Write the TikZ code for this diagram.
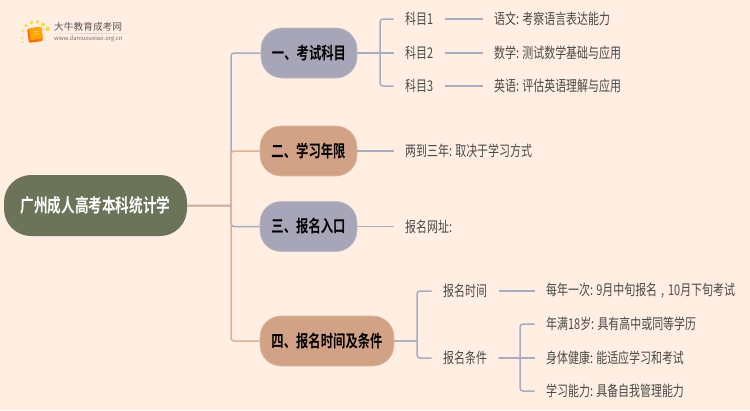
\documentclass[tikz,border=0pt]{standalone}
\usepackage{fontspec}
\setmainfont{Noto Sans CJK SC}
\newfontfamily\leaffont[FakeStretch=0.74]{Noto Sans CJK SC}
\newfontfamily\boldfont[FakeStretch=0.73]{Noto Sans CJK SC Bold}
\definecolor{bg}{HTML}{FFEEE1}
\definecolor{rootc}{HTML}{6B7358}
\definecolor{grayc}{HTML}{A6A6B8}
\definecolor{salc}{HTML}{D2A286}
\definecolor{lineg}{HTML}{A9ABC0}
\definecolor{lines}{HTML}{DFB095}
\definecolor{txt}{HTML}{4A4A4A}
\tikzset{
 rootnode/.style={fill=rootc,text=white,rounded corners=27pt,minimum width=183pt,minimum height=61pt,inner sep=0pt,font=\boldfont\fontsize{18.7}{20}\selectfont},
 branchg/.style={fill=grayc,draw=grayc!70!bg,line width=.6pt,text=black,rounded corners=21pt,minimum height=50pt,inner sep=0pt,font=\boldfont\fontsize{16.9}{18}\selectfont},
 branchs/.style={branchg,fill=salc,draw=salc!70!bg},
 leaf/.style={anchor=west,text=txt,inner xsep=11.5pt,inner ysep=2pt,font=\leaffont\fontsize{14.8}{16}\selectfont},
 cg/.style={draw=lineg,line width=1.5pt},
 cs/.style={draw=lines,line width=1.5pt},
}
\begin{document}
\begin{tikzpicture}[x=1pt,y=-1pt]
\fill[bg] (0,0) rectangle (750,410);
\useasboundingbox (0,0) rectangle (750,410);
% logo
\foreach \x/\y/\r in {21.5/38/1,22.5/31/1.3,26/25.5/1.6,31.5/22.5/1.8,37.5/22/1.9,43/24.5/2,47.5/29/2.2,23/42/.8}
  \fill[yellow!70!orange!75!bg] (\x,\y) circle (\r);
\begin{scope}[shift={(35,35)},rotate=8]
 \fill[orange!85!red,rounded corners=1.2pt] (-7,-7) rectangle (7,7);
 \fill[orange!70!yellow,rounded corners=1pt] (-5,-7.5) rectangle (7.5,4.5);
 \draw[white!60!orange,line width=.7pt] (-1,-3.5) -- (4,-3.5) (-1.5,-1) -- (3.5,-1);
\end{scope}
\shade[left color=bg,right color=bg,middle color=black!18] (47,33) rectangle (132,33.6);
\node[inner sep=0pt,anchor=west,text=black!65,font=\fontsize{9.7}{11}\selectfont] (logot) at (54,27) {大牛教育成考网};
\node[inner sep=0pt,anchor=west,text=black!55,font=\fontsize{5.9}{7}\selectfont] (logou) at (54,38.7) {www.daniuxueiao.org.cn};
% main nodes
\node[rootnode] (root) at (95.5,205.5) {广州成人高考本科统计学};
\node[branchg,minimum width=96pt] (b1) at (309,53) {一、考试科目};
\node[branchs,minimum width=97pt] (b2) at (308.5,151) {二、学习年限};
\node[branchg,minimum width=97pt] (b3) at (308.5,226.5) {三、报名入口};
\node[branchs,minimum width=134pt] (b4) at (327,341) {四、报名时间及条件};
\coordinate (t) at (231,205.5);
% level 2
\node[leaf] (s1) at (393.5,19) {科目1};
\node[leaf] (s2) at (393.5,53) {科目2};
\node[leaf] (s3) at (393.5,86) {科目3};
\node[leaf] (d1) at (482.5,19) {语文: 考察语言表达能力};
\node[leaf] (d2) at (482.5,53) {数学: 测试数学基础与应用};
\node[leaf] (d3) at (482.5,86) {英语: 评估英语理解与应用};
\node[leaf] (e2) at (393.5,151) {两到三年: 取决于学习方式};
\node[leaf] (e3) at (393.5,226.5) {报名网址:};
\node[leaf] (f1) at (431.5,291) {报名时间};
\node[leaf] (f2) at (431.5,358) {报名条件};
\node[leaf] (g1) at (534.5,291) {每年一次: 9月中旬报名\hspace{1.5pt} ,\hspace{1.5pt} 10月下旬考试};
\node[leaf] (h1) at (534.5,324) {年满18岁: 具有高中或同等学历};
\node[leaf] (h2) at (534.5,358) {身体健康: 能适应学习和考试};
\node[leaf] (h3) at (534.5,391) {学习能力: 具备自我管理能力};
\coordinate (fa) at (380,53);
\coordinate (fb) at (417,341);
\coordinate (fc) at (520,358);
% connectors
\draw[cg] (root.east) -- (t) [rounded corners=3pt] |- (b1.west);
\draw[cg] (root.east) -- (t) [rounded corners=3pt] |- (b3.west);
\draw[cs] (root.east) -- (t) [rounded corners=3pt] |- (b2.west);
\draw[cs] (root.east) -- (t) [rounded corners=3pt] |- (b4.west);
\draw[cg] (b1.east) -- (fa) [rounded corners=3pt] |- (s1.west);
\draw[cg] (b1.east) -- (s2.west);
\draw[cg] (b1.east) -- (fa) [rounded corners=3pt] |- (s3.west);
\draw[cg] (s1.east) -- (d1.west);
\draw[cg] (s2.east) -- (d2.west);
\draw[cg] (s3.east) -- (d3.west);
\draw[cg] (b2.east) -- (e2.west);
\draw[cg] (b3.east) -- (e3.west);
\draw[cg] (b4.east) -- (fb) [rounded corners=3pt] |- (f1.west);
\draw[cg] (b4.east) -- (fb) [rounded corners=3pt] |- (f2.west);
\draw[cg] (f1.east) -- (g1.west);
\draw[cg] (f2.east) -- (fc) [rounded corners=3pt] |- (h1.west);
\draw[cg] (f2.east) -- (h2.west);
\draw[cg] (f2.east) -- (fc) [rounded corners=3pt] |- (h3.west);
\end{tikzpicture}
\end{document}
